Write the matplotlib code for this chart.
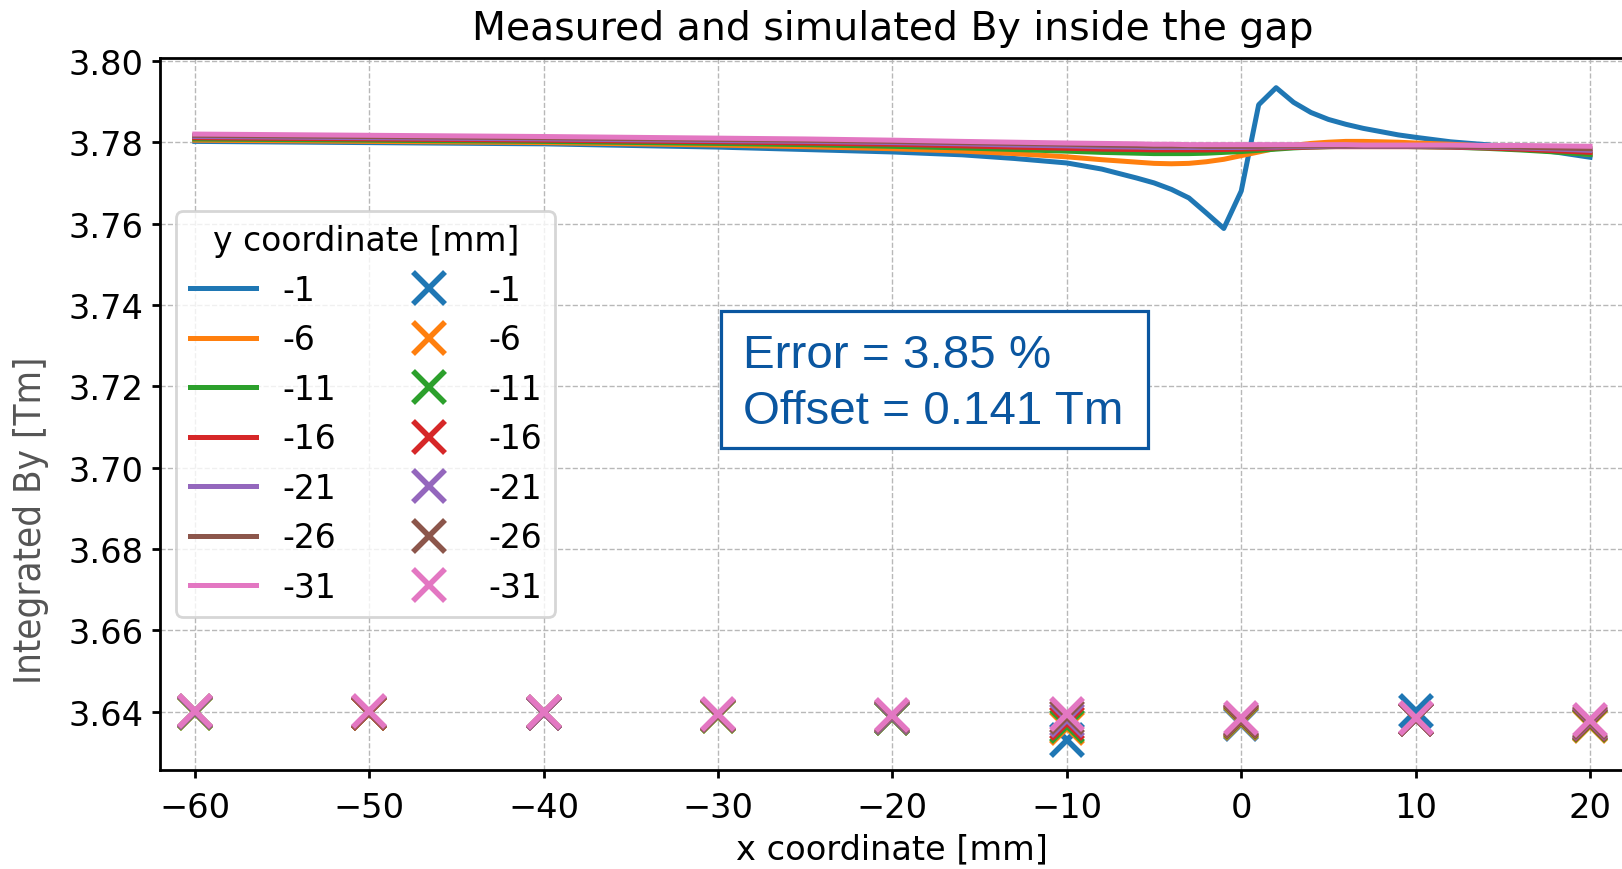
import matplotlib
matplotlib.use("Agg")
import matplotlib.pyplot as plt
from matplotlib.patches import Rectangle

# simulated integrated By along x, one list per y coordinate
x_sim = [-60, -50, -40, -30, -25, -20, -16, -13, -10, -8, -6, -5, -4, -3, -2, -1,
         0, 1, 2, 3, 4, 5, 6, 7, 8, 9, 10, 12, 14, 16, 18, 20]
sim_m1 = [3.7802, 3.7799, 3.7796, 3.7788, 3.7782, 3.7776, 3.7769, 3.7760, 3.7749, 3.7734,
          3.7712, 3.7700, 3.7684, 3.7663, 3.7626, 3.7588, 3.7680, 3.7892, 3.7934, 3.7898,
          3.7873, 3.7856, 3.7844, 3.7834, 3.7826, 3.7818, 3.7812, 3.7801, 3.7794, 3.7786,
          3.7776, 3.7763]
sim_m6 = [3.7805, 3.7802, 3.7799, 3.7793, 3.7789, 3.7784, 3.7778, 3.7772, 3.7764, 3.7757,
          3.7751, 3.7748, 3.7747, 3.7748, 3.7752, 3.7758, 3.7767, 3.7776, 3.7785, 3.7792,
          3.7797, 3.7800, 3.7802, 3.7802, 3.7801, 3.7800, 3.7798, 3.7795, 3.7791, 3.7785,
          3.7778, 3.7770]
sim_m11 = [3.7808, 3.7805, 3.7802, 3.7797, 3.7794, 3.7790, 3.7786, 3.7782, 3.7778, 3.7775,
           3.7773, 3.7772, 3.7772, 3.7772, 3.7773, 3.7775, 3.7777, 3.7780, 3.7783, 3.7786,
           3.7788, 3.7789, 3.7790, 3.7790, 3.7790, 3.7790, 3.7789, 3.7788, 3.7785, 3.7781,
           3.7776, 3.7770]
sim_m16 = [3.7811, 3.7808, 3.7805, 3.7801, 3.7798, 3.7795, 3.7791, 3.7788, 3.7785, 3.7783,
           3.7782, 3.7781, 3.7781, 3.7781, 3.7781, 3.7782, 3.7783, 3.7784, 3.7786, 3.7787,
           3.7788, 3.7789, 3.7789, 3.7789, 3.7789, 3.7789, 3.7789, 3.7788, 3.7786, 3.7783,
           3.7779, 3.7775]
sim_m21 = [3.7814, 3.7811, 3.7808, 3.7804, 3.7802, 3.7799, 3.7796, 3.7793, 3.7791, 3.7789,
           3.7788, 3.7787, 3.7787, 3.7787, 3.7787, 3.7787, 3.7787, 3.7788, 3.7788, 3.7789,
           3.7789, 3.7790, 3.7790, 3.7790, 3.7790, 3.7790, 3.7790, 3.7789, 3.7788, 3.7786,
           3.7783, 3.7780]
sim_m26 = [3.7817, 3.7814, 3.7811, 3.7807, 3.7805, 3.7802, 3.7799, 3.7797, 3.7795, 3.7793,
           3.7792, 3.7791, 3.7791, 3.7791, 3.7790, 3.7790, 3.7790, 3.7790, 3.7791, 3.7791,
           3.7791, 3.7791, 3.7791, 3.7791, 3.7791, 3.7791, 3.7791, 3.7790, 3.7789, 3.7788,
           3.7786, 3.7784]
sim_m31 = [3.7820, 3.7817, 3.7814, 3.7810, 3.7808, 3.7805, 3.7802, 3.7800, 3.7798, 3.7797,
           3.7796, 3.7795, 3.7795, 3.7794, 3.7794, 3.7794, 3.7794, 3.7794, 3.7794, 3.7794,
           3.7794, 3.7794, 3.7794, 3.7793, 3.7793, 3.7793, 3.7793, 3.7793, 3.7792, 3.7792,
           3.7791, 3.7790]

# measured points
x_meas = [-60, -50, -40, -30, -20, -10, 0, 10, 20]
meas_m1 = [3.6399, 3.6398, 3.6398, 3.6391, 3.6386, 3.6330, 3.6371, 3.6401, 3.6368]
meas_m6 = [3.6398, 3.6398, 3.6397, 3.6390, 3.6385, 3.6360, 3.6373, 3.6382, 3.6366]
meas_m11 = [3.6398, 3.6398, 3.6397, 3.6390, 3.6386, 3.6366, 3.6375, 3.6382, 3.6368]
meas_m16 = [3.6399, 3.6398, 3.6397, 3.6391, 3.6387, 3.6373, 3.6377, 3.6383, 3.6370]
meas_m21 = [3.6400, 3.6399, 3.6398, 3.6392, 3.6388, 3.6380, 3.6379, 3.6383, 3.6373]
meas_m26 = [3.6401, 3.6400, 3.6399, 3.6393, 3.6390, 3.6388, 3.6381, 3.6383, 3.6376]
meas_m31 = [3.6402, 3.6401, 3.6400, 3.6394, 3.6392, 3.6395, 3.6384, 3.6384, 3.6380]

y_labels = ["-1", "-6", "-11", "-16", "-21", "-26", "-31"]
sim_curves = [sim_m1, sim_m6, sim_m11, sim_m16, sim_m21, sim_m26, sim_m31]
meas_points = [meas_m1, meas_m6, meas_m11, meas_m16, meas_m21, meas_m26, meas_m31]

error_pct = 3.85
offset_tm = 0.141

plt.rcParams["font.size"] = 24.2
plt.rcParams["axes.linewidth"] = 2.0
plt.rcParams["xtick.major.size"] = 5.9
plt.rcParams["ytick.major.size"] = 5.9
plt.rcParams["xtick.major.width"] = 2.0
plt.rcParams["ytick.major.width"] = 2.0
plt.rcParams["xtick.major.pad"] = 9.5
plt.rcParams["ytick.major.pad"] = 5.9

fig = plt.figure(figsize=(16.22, 8.70), dpi=100)
ax = fig.add_axes([0.0986, 0.1138, 0.9032, 0.8184])

colors = plt.rcParams["axes.prop_cycle"].by_key()["color"]
for i, lab in enumerate(y_labels):
    ax.plot(x_sim, sim_curves[i], color=colors[i], lw=3.6, label=lab)
for i, lab in enumerate(y_labels):
    ax.plot(x_meas, meas_points[i], ls="none", marker="x", ms=23, mew=4,
            color=colors[i], label=lab)

ax.set_xlim(-62, 22)
ax.set_ylim(3.6257, 3.8007)
ax.set_xticks([-60, -50, -40, -30, -20, -10, 0, 10, 20])
ax.set_yticks([3.64, 3.66, 3.68, 3.70, 3.72, 3.74, 3.76, 3.78, 3.80])
ax.grid(True, ls="--", color="#b8b8b8", lw=1.0)
ax.set_axisbelow(True)

ax.set_title("Measured and simulated By inside the gap", fontsize=28.4, pad=14)
ax.set_xlabel("x coordinate [mm]", labelpad=6)
fig.text(0.019, 1 - 520 / 870, "Integrated By [Tm]", rotation=90, color="#555555",
         fontsize=27.5, ha="center", va="center", fontstretch="condensed")

leg = ax.legend(loc="center left", ncol=2, title="y coordinate [mm]",
                title_fontsize=23.8, fontsize=23.8, framealpha=0.8, edgecolor="0.8",
                columnspacing=1.8)
leg.get_frame().set_linewidth(2.0)

# result box
blue_txt = "#0a56a0"
fig.patches.append(Rectangle((721 / 1622, 1 - 449 / 870), 427 / 1622, 137 / 870,
                             transform=fig.transFigure, facecolor="white",
                             edgecolor=blue_txt, lw=2.3, zorder=5))
fig.text(743 / 1622, 1 - 384 / 870,
         f"Error = {error_pct:.2f} %\nOffset = {offset_tm:.3f} Tm",
         family="Liberation Sans", fontsize=34.2, color=blue_txt,
         ha="left", va="center", linespacing=1.38, zorder=6)

fig.savefig("out.png", dpi=100)
